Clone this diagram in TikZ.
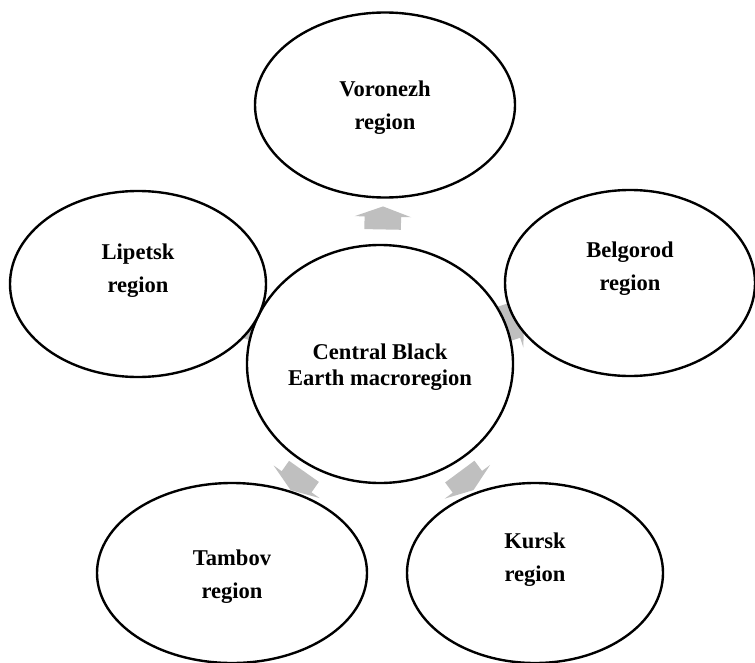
\documentclass[tikz,border=0pt]{standalone}
\usepackage{fontspec}
\setmainfont{Liberation Serif}
\usetikzlibrary{shapes.geometric,shapes.arrows,backgrounds}

\begin{document}
\begin{tikzpicture}[x=0.0265cm, y=-0.0265cm,
    region/.style={ellipse, draw, line width=1.8pt, fill=white, inner sep=0pt,
      align=center, font=\fontsize{17}{24.8}\selectfont\bfseries, text depth=0pt},
    flow/.style={single arrow, fill=gray!50, draw=none, inner xsep=0pt,
      inner ysep=0.477cm, minimum height=0.61cm, single arrow head extend=0.265cm,
      single arrow tip angle=140, sloped, allow upside down}]
    \def\pxu{0.0265cm}
    \useasboundingbox (0,0) rectangle (755,662);

    % Centre
    \node[region, minimum width={266*\pxu}, minimum height={238*\pxu},
      font=\fontsize{17}{19.5}\selectfont\bfseries, text height={42*\pxu}]
      (centre) at (380,364) {Central Black\\Earth macroregion};

    % Regions around it
    \node[region, minimum width={260*\pxu}, minimum height={185*\pxu}, text height={49*\pxu}]
      (voronezh) at (385,105) {Voronezh\\region};
    \node[region, minimum width={256*\pxu}, minimum height={186*\pxu}, text height={16*\pxu}]
      (lipetsk) at (138,284) {Lipetsk\\region};
    \node[region, minimum width={250*\pxu}, minimum height={186*\pxu}, text height={14*\pxu}]
      (belgorod) at (630,283) {Belgorod\\region};
    \node[region, minimum width={270*\pxu}, minimum height={180*\pxu}, text height={50*\pxu}]
      (tambov) at (232,573) {Tambov\\region};
    \node[region, minimum width={256*\pxu}, minimum height={180*\pxu}, text height={16*\pxu}]
      (kursk) at (535,573) {Kursk\\region};

    % Arrows from the centre
    \begin{scope}[on background layer]
        \path (centre) -- (voronezh) node[flow, midway] {};
        \path (centre) -- (lipetsk) node[flow, midway] {};
        \path (centre) -- (belgorod) node[flow, midway] {};
        \path (centre) -- (tambov) node[flow, midway] {};
        \path (centre) -- (kursk) node[flow, midway] {};
    \end{scope}
\end{tikzpicture}
\end{document}
